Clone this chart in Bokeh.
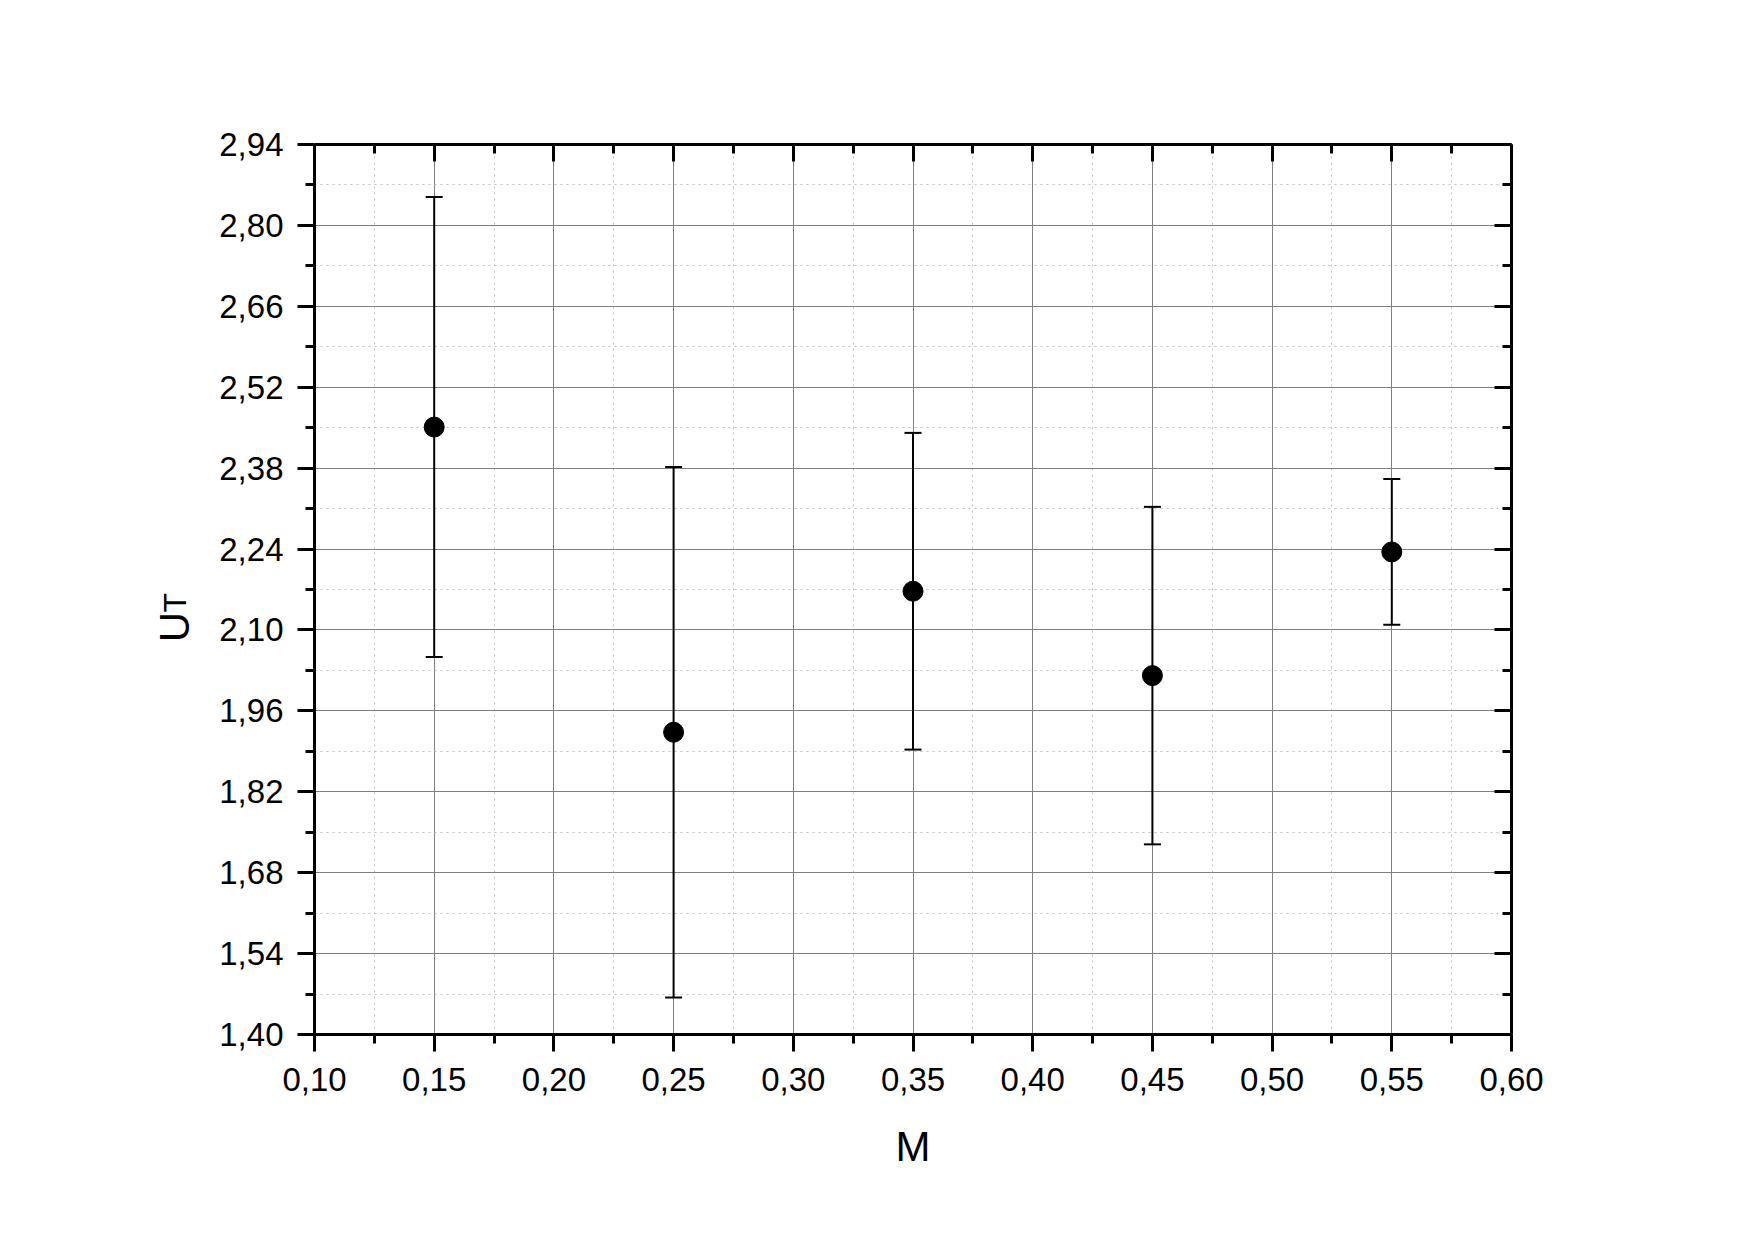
from bokeh.plotting import figure
from bokeh.layouts import row
from bokeh.models import (ColumnDataSource, Whisker, TeeHead, LinearAxis, FixedTicker,
                          CustomJSTickFormatter, Range1d, Label)
from bokeh.embed import file_html
from bokeh.resources import INLINE

# ---- data ----
m_values = [0.15, 0.25, 0.35, 0.45, 0.55]
ut_values = [2.451, 1.923, 2.167, 2.021, 2.235]
ut_errors = [0.398, 0.459, 0.274, 0.292, 0.126]

x_ticks = [0.10, 0.15, 0.20, 0.25, 0.30, 0.35, 0.40, 0.45, 0.50, 0.55, 0.60]
x_minor_ticks = [0.125, 0.175, 0.225, 0.275, 0.325, 0.375, 0.425, 0.475, 0.525, 0.575]
x_tick_labels = ["0,10", "0,15", "0,20", "0,25", "0,30", "0,35", "0,40", "0,45", "0,50", "0,55", "0,60"]

y_ticks = [1.40, 1.54, 1.68, 1.82, 1.96, 2.10, 2.24, 2.38, 2.52, 2.66, 2.80, 2.94]
y_minor_ticks = [1.47, 1.61, 1.75, 1.89, 2.03, 2.17, 2.31, 2.45, 2.59, 2.73, 2.87]
y_tick_labels = ["1,40", "1,54", "1,68", "1,82", "1,96", "2,10", "2,24", "2,38", "2,52", "2,66", "2,80", "2,94"]

x_label = "M"
y_label_main = "U"
y_label_sub = "T"

FONT = "Liberation Sans"
TOP_B = 144
FRAME_H = 890
BOTTOM_B = 190
LABEL_W = 200

source = ColumnDataSource(dict(
    x=m_values,
    y=ut_values,
    upper=[v + e for v, e in zip(ut_values, ut_errors)],
    lower=[v - e for v, e in zip(ut_values, ut_errors)],
))

y_range = Range1d(1.40, 2.94)

p = figure(frame_width=1197, frame_height=FRAME_H,
           min_border_left=314 - LABEL_W, min_border_top=TOP_B, min_border_right=220,
           min_border_bottom=BOTTOM_B,
           x_range=Range1d(0.10, 0.60), y_range=y_range,
           output_backend="svg", toolbar_location=None,
           background_fill_color="white", border_fill_color="white")
p.outline_line_color = None

lookup_code = """
let best = 0;
for (let i = 0; i < tvals.length; i++) {
  if (Math.abs(tvals[i] - tick) < Math.abs(tvals[best] - tick)) best = i;
}
return tlabels[best];
"""
x_fmt = CustomJSTickFormatter(args=dict(tvals=x_ticks, tlabels=x_tick_labels), code=lookup_code)
y_fmt = CustomJSTickFormatter(args=dict(tvals=y_ticks, tlabels=y_tick_labels), code=lookup_code)
blank_fmt = CustomJSTickFormatter(code="return '';")

x_ticker = FixedTicker(ticks=x_ticks, minor_ticks=x_minor_ticks)
y_ticker = FixedTicker(ticks=y_ticks, minor_ticks=y_minor_ticks)


def style_axis(ax, outward):
    ax.axis_line_width = 3
    ax.axis_line_color = "black"
    ax.major_tick_line_width = 3
    ax.minor_tick_line_width = 3
    ax.major_tick_line_color = "black"
    ax.minor_tick_line_color = "black"
    if outward:
        ax.major_tick_out = 17
        ax.major_tick_in = 0
        ax.minor_tick_out = 9
        ax.minor_tick_in = 0
    else:
        ax.major_tick_out = 0
        ax.major_tick_in = 17
        ax.minor_tick_out = 0
        ax.minor_tick_in = 9
    ax.major_label_text_font = FONT
    ax.major_label_text_font_size = "33px"
    ax.major_label_text_color = "black"


# bottom / left axes
xa = p.xaxis[0]
ya = p.yaxis[0]
xa.ticker = x_ticker
ya.ticker = y_ticker
xa.formatter = x_fmt
ya.formatter = y_fmt
style_axis(xa, True)
style_axis(ya, True)
xa.major_label_standoff = 16
ya.major_label_standoff = 14
xa.axis_label = x_label
xa.axis_label_text_font = FONT
xa.axis_label_text_font_size = "42px"
xa.axis_label_text_font_style = "normal"
xa.axis_label_text_color = "black"
xa.axis_label_standoff = 29

# mirrored top / right axes with inward ticks
top = LinearAxis(ticker=x_ticker, formatter=blank_fmt)
right = LinearAxis(ticker=y_ticker, formatter=blank_fmt)
style_axis(top, False)
style_axis(right, False)
top.major_label_standoff = 0
right.major_label_standoff = 0
p.add_layout(top, "above")
p.add_layout(right, "right")

# grids
for g, t in ((p.xgrid[0], x_ticker), (p.ygrid[0], y_ticker)):
    g.ticker = t
    g.grid_line_color = "#808080"
    g.grid_line_width = 1
    g.minor_grid_line_color = "#c0c0c0"
    g.minor_grid_line_width = 1
    g.minor_grid_line_dash = "2 4"

# error bars
whisker = Whisker(source=source, base="x", upper="upper", lower="lower", dimension="height",
                  line_color="black", line_width=2,
                  upper_head=TeeHead(size=17, line_width=2, line_color="black"),
                  lower_head=TeeHead(size=17, line_width=2, line_color="black"))
p.add_layout(whisker)

p.scatter("x", "y", source=source, marker="circle", size=20,
          fill_color="black", line_color="black")

# narrow panel on the left (same vertical layout and y range) holding the
# rotated y label "U" with subscript "T"
lab = figure(frame_width=LABEL_W, frame_height=FRAME_H,
             min_border_left=0, min_border_right=0,
             min_border_top=TOP_B, min_border_bottom=BOTTOM_B,
             x_range=Range1d(0, LABEL_W), y_range=y_range,
             x_axis_location=None, y_axis_location=None,
             output_backend="svg", toolbar_location=None,
             background_fill_color="white", border_fill_color="white")
lab.outline_line_color = None
lab.grid.visible = False
lab.add_layout(Label(x=174, y=2.105, x_units="screen", text=y_label_main,
                     angle=90, angle_units="deg", text_align="center", text_baseline="alphabetic",
                     text_font=FONT, text_font_size="42px", text_color="black"))
lab.add_layout(Label(x=174, y=2.147, x_units="screen", text=y_label_sub,
                     angle=90, angle_units="deg", text_align="center", text_baseline="alphabetic",
                     text_font=FONT, text_font_size="32px", text_color="black"))

layout = row(lab, p, spacing=0)
open("out.html", "w").write(file_html(layout, INLINE))
